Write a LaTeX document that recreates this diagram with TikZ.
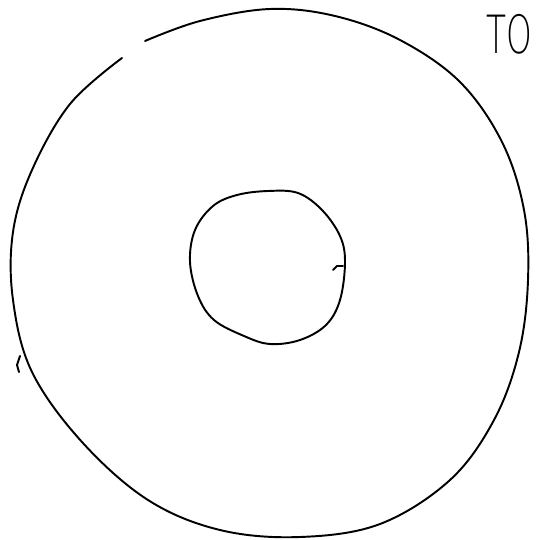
\documentclass[tikz,border=0pt]{standalone}
\usepackage{fontspec}
\newfontfamily\handfont{DejaVu Sans ExtraLight}
\begin{document}
\begin{tikzpicture}[x=0.02cm, y=-0.02cm, line width=1.1pt, line join=round, line cap=round]
  \useasboundingbox (0,0) rectangle (537,540);
  % outer ring, drawn by hand
  \draw plot[smooth, tension=0.6] coordinates {(145,41) (200,21) (270,9) (335,16) (400,40) (460,82) (502,142) (524,210) (528,280) (519,352) (494,420) (450,480) (380,524) (300,537) (220,530) (148,500) (82,442) (32,372) (13,300) (13,232) (32,170) (70,104) (122,58)};
  \draw (20,356) -- (17,365) -- (19,372);
  % inner ring
  \draw plot[smooth cycle, tension=0.6] coordinates {(237,195) (268,191) (298,193) (322,210) (340,236) (345,262) (340,300) (326,325) (300,340) (270,344) (244,336) (214,320) (198,296) (190,262) (195,230) (213,206)};
  \draw (333,270) -- (337,266) -- (343,266);
  \node[anchor=base west, inner sep=0pt, xscale=0.62, font=\handfont\fontsize{30}{30}\selectfont] (label) at (486,54) {TO};
\end{tikzpicture}
\end{document}
